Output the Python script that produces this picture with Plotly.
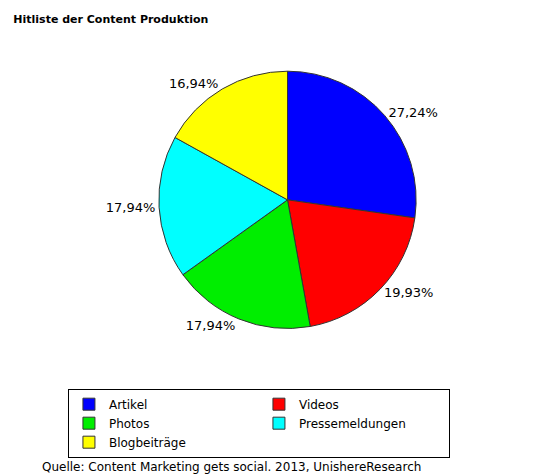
import plotly.graph_objects as go

labels = ["Artikel", "Videos", "Photos", "Pressemeldungen", "Blogbeiträge"]
values = [27.24, 19.93, 17.94, 17.94, 16.94]
colors = ["#0000ff", "#ff0000", "#00ee00", "#00ffff", "#ffff00"]
pct_text = [f"{v:.2f}%".replace(".", ",") for v in values]

fig = go.Figure(go.Pie(
    labels=labels, values=values, sort=False, direction="clockwise", rotation=0,
    marker=dict(colors=colors, line=dict(color="#333333", width=1)),
    text=pct_text, textinfo="text", textposition="outside",
    textfont=dict(size=13, color="black"),
    domain=dict(x=[0.15, 0.85], y=[0.3, 0.92]),
    hoverinfo="label+text",
))

fig.update_layout(
    width=534, height=475,
    paper_bgcolor="white", plot_bgcolor="white",
    font=dict(family="DejaVu Sans", color="black"),
    title=dict(text="<b>Hitliste der Content Produktion</b>", x=0.01, y=0.985,
               font=dict(size=11, family="DejaVu Sans")),
    margin=dict(l=5, r=5, t=30, b=30),
    legend=dict(orientation="h", x=0.06, y=0.155, xanchor="left", yanchor="top",
                bordercolor="black", borderwidth=1, entrywidth=145,
                font=dict(size=12), traceorder="normal", itemwidth=30),
    annotations=[dict(text="Quelle: Content Marketing gets social. 2013, UnishereResearch",
                      x=0.005, y=-0.055, xref="paper", yref="paper",
                      xanchor="left", yanchor="bottom", showarrow=False,
                      font=dict(size=12))],
)

fig.write_html("out.html")
